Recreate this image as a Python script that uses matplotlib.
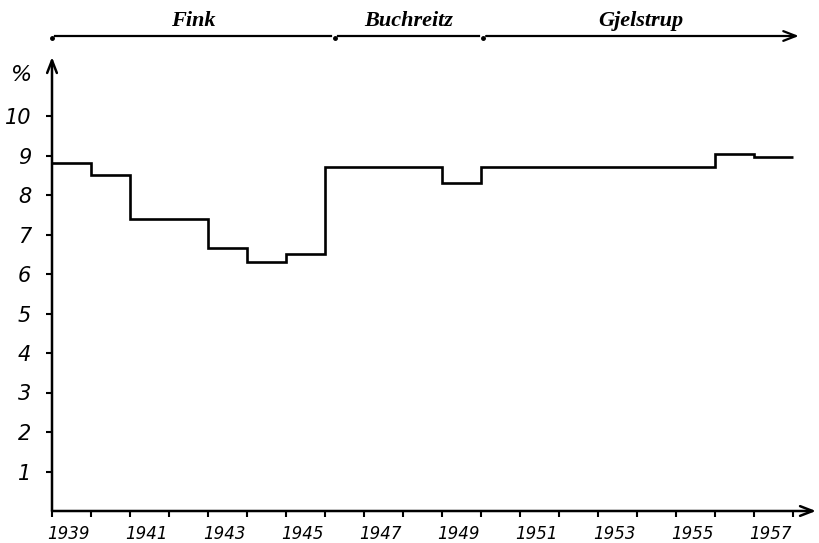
import matplotlib
matplotlib.use("Agg")
import numpy as np
import matplotlib.pyplot as plt
from matplotlib.transforms import ScaledTranslation

# yearly values (%), step held through the year
YEARS = list(range(1939, 1958))
VALUES = [8.8, 8.5, 7.4, 7.4, 6.65, 6.3, 6.5, 8.7, 8.7, 8.7,
          8.3, 8.7, 8.7, 8.7, 8.7, 8.7, 8.7, 9.05, 8.95]

# periods shown on the top arrow
PERIODS = ["Fink", "Buchreitz", "Gjelstrup"]
PERIOD_START = [1939.0, 1946.25, 1950.05]
PERIOD_END = 1958.15

Y_TICKS = list(range(1, 11))
X_TICKS = list(range(1939, 1959))

W, H = 820, 543
fig = plt.figure(figsize=(W / 100, H / 100), dpi=100)
# axis origin at (52, 511) px, y-arrow tip at 57 px, x-arrow tip at 816 px
ax = fig.add_axes([52 / W, 32 / H, (816 - 52) / W, (511 - 57) / H])
ax.set_xlim(1939, 1939 + (816 - 52) / 39)
ax.set_ylim(0, (511 - 57) / 39.5)

edges = YEARS + [YEARS[-1] + 1]
ax.stairs(VALUES, edges, baseline=None, color="black", lw=1.9)

for s in ax.spines.values():
    s.set_visible(False)

arrow = dict(arrowstyle="->,head_length=0.9,head_width=0.35", lw=1.8,
             color="black", shrinkA=0, shrinkB=0)
ax.annotate("", xy=(1, 0), xytext=(0, 0), xycoords="axes fraction",
            arrowprops=arrow, annotation_clip=False)
ax.annotate("", xy=(0, 1), xytext=(0, 0), xycoords="axes fraction",
            arrowprops=arrow, annotation_clip=False)

ax.set_yticks(Y_TICKS)
ax.set_yticklabels([str(v) for v in Y_TICKS], fontsize=15, style="italic")
ax.set_xticks(X_TICKS)
ax.set_xticklabels([str(y) if y % 2 == 1 else "" for y in X_TICKS],
                   fontsize=12, style="italic")
ax.tick_params(axis="y", direction="out", length=4, width=1.5, pad=11)
ax.tick_params(axis="x", direction="out", length=4, width=1.5, pad=6)
shift = ScaledTranslation(0.16, 0, fig.dpi_scale_trans)
for lab in ax.get_xticklabels():
    lab.set_transform(lab.get_transform() + shift)

ax.text(-0.04, 11.05, "%", transform=ax.get_yaxis_transform(),
        ha="center", va="center", fontsize=16, style="italic")

# top arrow with the periods
top_y = (511 - 36) / 39.5
ends = PERIOD_START[1:] + [PERIOD_END]
for i, (name, a, b) in enumerate(zip(PERIODS, PERIOD_START, ends)):
    ax.plot([a], [top_y - 0.04], marker="o", ms=2.5, color="black",
            clip_on=False)
    if i < len(PERIODS) - 1:
        ax.plot([a + 0.08, b - 0.1], [top_y, top_y], color="black", lw=1.6,
                clip_on=False)
    else:
        ax.annotate("", xy=(b, top_y), xytext=(a + 0.08, top_y),
                    arrowprops=dict(arrowstyle="->,head_length=0.9,head_width=0.35",
                                    lw=1.6, color="black", shrinkA=0, shrinkB=0),
                    annotation_clip=False)
    ax.text((a + b) / 2, top_y + 0.38, name, ha="center", va="center",
            fontsize=16, style="italic", weight="bold",
            family="Liberation Serif", clip_on=False)

fig.savefig("out.png", dpi=100)
